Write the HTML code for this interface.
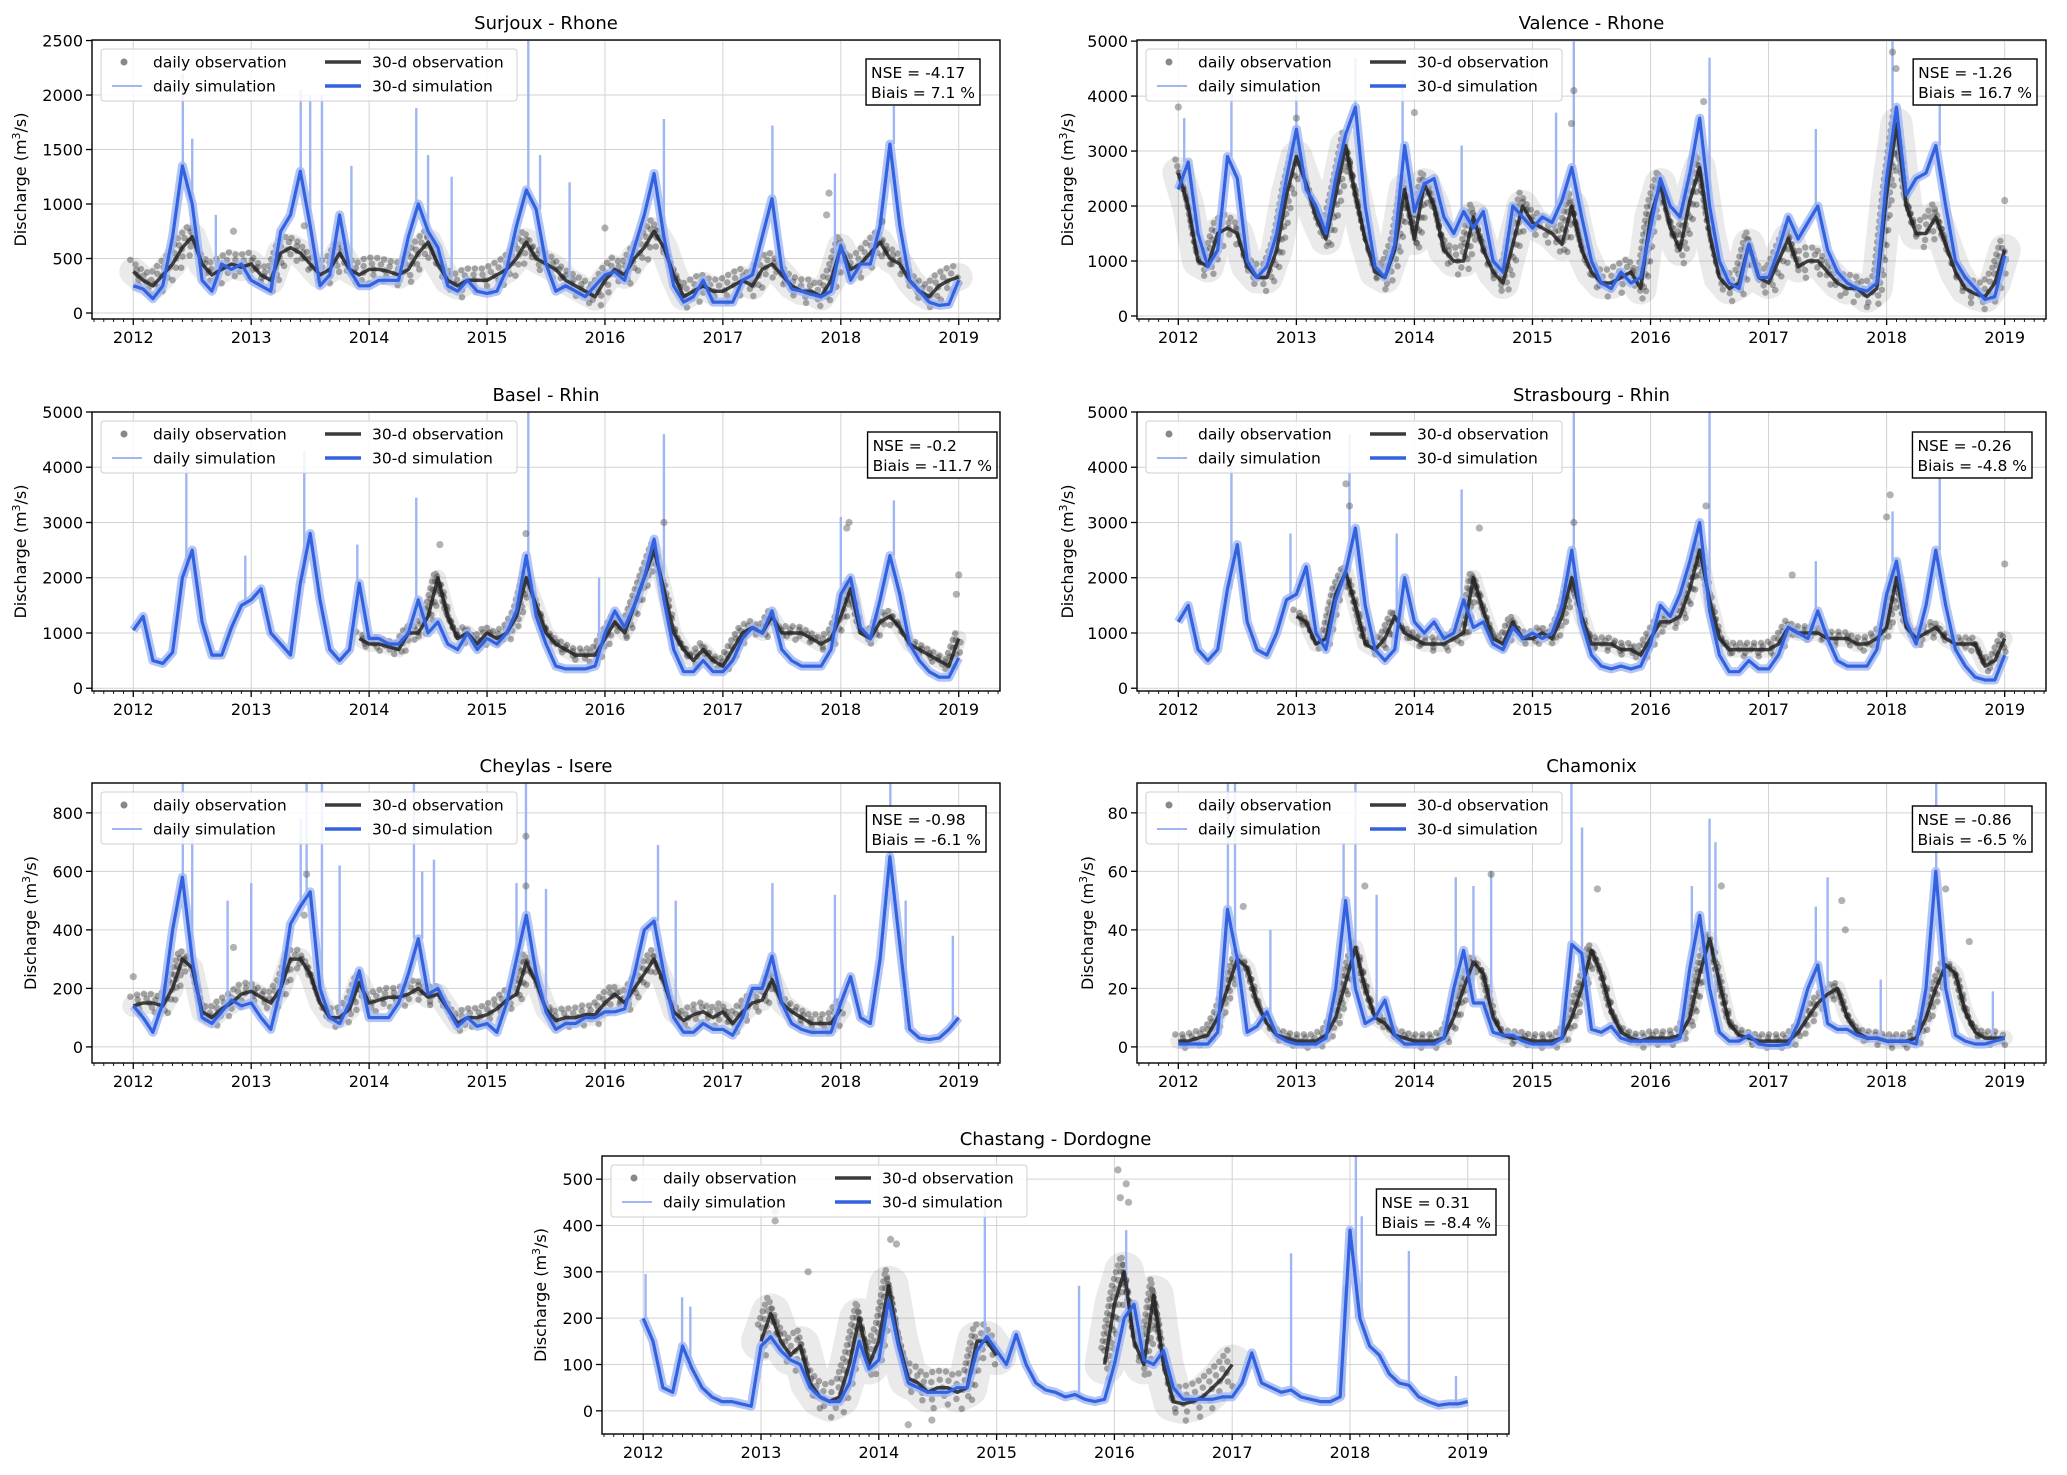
<!DOCTYPE html>
<html><head><meta charset="utf-8"><title>Discharge comparison</title>
<style>
html,body{margin:0;padding:0;background:#fff;}
svg{display:block;font-family:"DejaVu Sans","Liberation Sans",sans-serif;}
</style></head>
<body>
<svg id="fig" width="2067" height="1475" viewBox="0 0 2067 1475" xmlns="http://www.w3.org/2000/svg"></svg>
<script>
// ---- data (monthly values, Jan 2012 .. Jan 2019, 85 points) ----
const surjouxSim30 = [250,220,130,250,700,1350,1000,300,200,450,400,450, 300,250,200,750,900,1300,800,250,350,900,400,250, 250,300,300,300,700,1000,750,600,250,200,300,200, 180,200,400,800,1130,950,450,200,250,200,150,250, 350,380,300,600,900,1280,700,250,100,150,300,100, 100,100,300,350,700,1050,400,220,200,170,150,200, 620,300,450,450,800,1550,800,300,200,100,70,80, 300];
const surjouxObs30 = [380,300,250,350,450,600,700,450,350,400,450,420, 450,350,300,550,600,550,450,350,400,550,400,350, 400,400,380,350,400,550,650,450,300,250,300,300, 300,350,400,500,650,500,450,400,300,250,200,150, 300,400,350,500,600,750,600,350,150,200,250,200, 200,250,300,250,400,450,350,250,200,200,150,300, 600,400,450,550,650,500,450,300,200,150,250,300, 330];
const surjouxSpikeYears = [2012.42,2012.5,2012.7,2013.42,2013.5,2013.6,2013.85,2014.4,2014.5,2014.7,2015.35,2015.45,2015.7,2016.5,2017.42,2017.95,2018.45];
const surjouxSpikeValues = [2200,1600,900,2050,2000,2000,1350,1880,1450,1250,2500,1450,1200,1780,1720,1280,1900];
const surjouxOutYears = [2017.9,2017.88,2012.85,2016.0,2013.45,2018.35];
const surjouxOutValues = [1100,900,750,780,800,840];

const valenceSim30 = [2300,2800,1500,900,1200,2900,2500,1000,700,900,1500,2500, 3400,2300,2000,1500,2500,3300,3800,2000,900,700,1300,3100, 1900,2400,2500,1800,1500,1900,1600,1900,1000,800,2000,1800, 1600,1800,1700,2100,2700,1800,1000,600,500,800,600,700, 1600,2500,2000,1800,2600,3600,2000,1000,600,500,1300,700, 700,1200,1800,1400,1700,2000,1200,800,600,500,450,600, 2500,3800,2200,2500,2600,3100,2000,1000,700,500,300,350, 1100];
const valenceObs30 = [2600,2000,1000,900,1500,1600,1500,900,700,700,1200,2200, 2900,2400,1800,1400,2200,3100,2200,1400,800,700,1200,2300, 1400,2400,2000,1200,1000,1000,1800,1200,800,600,1300,2000, 1700,1600,1500,1300,2000,1200,800,600,600,700,800,500, 1800,2400,1600,1200,2100,2700,1500,700,500,600,1300,700, 600,1000,1400,900,1000,1000,800,600,500,500,350,500, 2200,3500,2000,1500,1500,1800,1300,800,500,400,350,600, 1200];
const valenceSpikeYears = [2012.05,2012.45,2013.0,2013.5,2013.9,2014.4,2015.2,2015.35,2016.5,2017.4,2018.05,2018.45];
const valenceSpikeValues = [3600,4300,4000,4700,4300,3100,3700,5000,4700,3400,5000,4000];
const valenceOutYears = [2012.0,2013.0,2014.0,2015.35,2015.33,2018.05,2018.08,2019.0,2016.45];
const valenceOutValues = [3800,3600,3700,4100,3500,4800,4500,2100,3900];

const baselSim30 = [1050,1300,500,450,650,2000,2500,1200,600,600,1100,1500, 1600,1800,1000,800,600,1900,2800,1600,700,500,700,1900, 900,900,800,800,1000,1600,1000,1200,800,700,1000,700, 900,800,1000,1400,2400,1300,800,400,350,350,350,400, 1000,1400,1100,1500,2000,2700,1600,700,300,300,500,300, 300,500,900,1100,1000,1400,700,500,400,400,400,700, 1700,2000,1100,900,1600,2400,1700,800,500,300,200,200, 550];
const baselObs30 = [null,null,null,null,null,null,null,null,null,null,null,null, null,null,null,null,null,null,null,null,null,null,null,900, 800,800,750,700,1000,1000,1300,2000,1300,900,1000,800, 1000,900,1000,1300,2000,1500,1000,800,700,600,600,600, 900,1200,1000,1500,2000,2500,1800,1000,700,500,700,500, 400,700,1000,1100,1000,1300,1000,1000,1000,900,800,900, 1300,1800,1000,900,1200,1300,1100,800,700,600,500,400, 900];
const baselSpikeYears = [2012.45,2012.95,2013.45,2013.9,2014.4,2015.35,2015.95,2016.5,2018.0,2018.45];
const baselSpikeValues = [4000,2400,4300,2600,3450,5000,2000,4600,3100,3400];
const baselOutYears = [2014.6,2015.33,2016.5,2018.05,2018.07,2019.0,2018.98];
const baselOutValues = [2600,2800,3000,2900,3000,2050,1700];

const strasSim30 = [1200,1500,700,500,700,1800,2600,1200,700,600,1000,1600, 1700,2200,1000,700,1600,2100,2900,1500,700,500,700,2000, 1200,1000,1200,900,1000,1600,1100,1200,800,700,1100,900, 1000,900,1000,1500,2500,1200,600,400,350,400,350,400, 800,1500,1300,1700,2300,3000,1400,600,300,300,500,350, 350,600,1100,1000,900,1400,900,500,400,400,400,700, 1700,2300,1200,800,1500,2500,1500,700,400,200,150,150, 600];
const strasObs30 = [null,null,null,null,null,null,null,null,null,null,null,null, 1300,1200,800,900,1700,2100,1500,800,700,900,1300,1000, 900,800,800,800,900,1000,2000,1400,900,800,1200,900, 900,1000,900,1300,2000,1300,800,800,800,700,700,600, 900,1200,1200,1300,1800,2500,1600,900,700,700,700,700, 700,800,1100,1000,1000,1000,900,900,900,800,800,900, 1100,2000,1100,900,1000,1100,900,800,800,800,400,500, 900];
const strasSpikeYears = [2012.45,2012.95,2013.45,2013.85,2014.4,2015.35,2016.5,2017.4,2018.05,2018.45];
const strasSpikeValues = [4000,2800,4600,2800,3600,5000,5000,2300,3200,3800];
const strasOutYears = [2013.42,2013.45,2014.55,2015.35,2016.47,2018.0,2018.03,2019.0,2017.2];
const strasOutValues = [3700,3300,2900,3000,3300,3100,3500,2250,2050];

const cheylasSim30 = [140,100,50,150,400,580,300,100,80,120,160,140, 150,100,60,200,420,480,530,200,100,80,150,260, 100,100,100,150,250,370,180,200,130,70,100,70, 80,50,150,300,450,250,120,60,80,80,100,100, 120,120,130,250,400,430,250,100,50,50,80,60, 60,40,100,200,200,310,150,80,60,50,50,50, 150,240,100,80,300,650,350,60,30,25,30,60, 100];
const cheylasObs30 = [140,150,150,140,200,300,270,120,100,130,150,180, 190,170,150,200,300,300,250,150,100,100,130,220, 150,160,170,170,180,200,170,180,130,80,100,100, 110,130,160,180,290,220,130,90,100,100,110,110, 150,180,150,200,250,300,220,120,90,110,120,100, 120,80,120,150,160,230,150,120,100,80,80,80, 130,null,null,null,null,null,null,null,null,null,null,null, null];
const cheylasSpikeYears = [2012.42,2012.5,2012.8,2013.0,2013.42,2013.47,2013.6,2013.75,2014.38,2014.45,2014.55,2015.25,2015.33,2015.5,2016.45,2016.6,2017.42,2017.95,2018.42,2018.55,2018.95];
const cheylasSpikeValues = [900,720,500,560,780,900,900,620,900,600,640,560,900,540,690,500,560,520,900,500,380];
const cheylasOutYears = [2015.33,2015.33,2013.47,2012.85,2012.0,2013.45];
const cheylasOutValues = [720,550,590,340,240,450];

const chamSim30 = [1,1,1,1,5,47,30,5,7,12,4,2, 1,1,1,3,20,50,20,8,10,16,4,1, 1,1,1,3,20,33,15,15,5,4,4,2, 1,1,1,3,35,32,6,5,7,3,2,2, 2,2,2,3,27,45,20,5,2,2,4,1, 0.5,0.5,1,8,20,28,8,6,6,4,3,3, 2,2,2,1,20,60,20,4,2,1,1,2, 3];
const chamObs30 = [2,2,3,4,10,20,30,27,15,8,4,3, 2,2,2,4,10,22,34,20,10,8,4,3, 2,2,2,3,10,20,29,25,10,4,3,3, 2,2,2,3,10,20,33,25,12,5,3,2, 3,3,3,4,10,25,37,22,8,4,3,2, 2,2,2,5,10,15,18,20,10,5,3,3, 2,2,2,3,10,20,28,25,12,5,3,3, 3];
const chamSpikeYears = [2012.42,2012.48,2012.78,2013.4,2013.5,2013.68,2014.35,2014.5,2014.65,2015.33,2015.42,2016.35,2016.5,2016.55,2017.4,2017.5,2017.95,2018.42,2018.9];
const chamSpikeValues = [90,90,40,70,90,52,58,55,60,90,75,55,78,70,48,58,23,90,19];
const chamOutYears = [2012.55,2013.58,2014.65,2015.55,2016.6,2017.62,2017.65,2018.5,2018.7];
const chamOutValues = [48,55,59,54,55,50,40,54,36];

const chastSim30 = [200,150,50,40,140,90,50,30,20,20,15,10, 140,160,130,110,100,50,30,20,20,60,150,90, 110,240,140,60,50,40,40,40,50,50,130,160, 130,100,165,100,60,45,40,30,35,25,20,25, 100,200,230,110,100,130,50,25,25,25,25,30, 30,60,125,60,50,40,45,30,25,20,20,30, 390,200,140,120,80,60,55,30,20,12,15,15, 20];
const chastObs30 = [null,null,null,null,null,null,null,null,null,null,null,null, 150,210,150,120,140,60,30,20,30,100,200,100, 150,270,150,70,60,40,50,50,40,50,150,150, 120,null,null,null,null,null,null,null,null,null,null,100, 230,300,150,100,250,100,20,15,20,30,50,70, 100,null,null,null,null,null,null,null,null,null,null,null, null,null,null,null,null,null,null,null,null,null,null,null, null];
const chastSpikeYears = [2012.02,2012.33,2012.4,2014.9,2015.7,2016.1,2017.5,2017.95,2018.05,2018.1,2018.5,2018.9];
const chastSpikeValues = [295,245,225,440,270,390,340,270,550,420,345,75];
const chastOutYears = [2013.12,2013.12,2014.1,2014.15,2016.03,2016.05,2016.1,2016.12,2014.25,2014.45,2013.4];
const chastOutValues = [410,430,370,360,520,460,490,450,-30,-20,300];

// ---- drawing ----
const NS = 'http://www.w3.org/2000/svg';
const svg = document.getElementById('fig');
function mk(tag, attrs, parent) {
  const e = document.createElementNS(NS, tag);
  for (const k in attrs) e.setAttribute(k, attrs[k]);
  (parent || svg).appendChild(e);
  return e;
}
const XMIN = 2011.65, XMAX = 2019.35;

function panel(c) {
  const g = mk('g', {});
  
  
  const sx = t => c.L + (t - XMIN) / (XMAX - XMIN) * (c.R - c.L);
  const sy = v => c.B - (v - c.ymin) / (c.ymax - c.ymin) * (c.B - c.T);
  const clipId = 'clip-' + c.id;
  const cp = mk('clipPath', {id: clipId}, g);
  mk('rect', {x: c.L, y: c.T, width: c.R - c.L, height: c.B - c.T}, cp);

  const grid = mk('g', {stroke: '#d3d3d3', 'stroke-width': 1}, g);
  
  
  for (let y = 2012; y <= 2019; y++) mk('line', {x1: sx(y), x2: sx(y), y1: c.T, y2: c.B}, grid);
  c.yticks.forEach(v => mk('line', {x1: c.L, x2: c.R, y1: sy(v), y2: sy(v)}, grid));

  const plot = mk('g', {'clip-path': 'url(#' + clipId + ')'}, g);
  const pts = arr => {
    let segs = [], cur = [];
    arr.forEach((v, m) => {
      if (v === null) { if (cur.length) segs.push(cur); cur = []; }
      else cur.push(sx(2012 + m / 12).toFixed(1) + ',' + sy(v).toFixed(1));
    });
    if (cur.length) segs.push(cur);
    return segs;
  };
  // daily observation cloud: dotted strands around the 30-d observation
  const offs = [-0.42, -0.2, 0, 0.2, 0.42];
  pts(c.obs).forEach(s => {
    const band = mk('polyline', {points: s.join(' '), fill: 'none', stroke: '#555', 'stroke-opacity': 0.12, 'stroke-width': c.band, 'stroke-linejoin': 'round', 'stroke-linecap': 'round'}, plot);
    
    
    offs.forEach((o, k) => {
      const p = mk('polyline', {points: s.join(' '), transform: 'translate(' + (k * 1.7 - 3) + ',' + (o * c.band) + ')', fill: 'none', stroke: '#333', 'stroke-opacity': 0.4, 'stroke-width': 6.5, 'stroke-linecap': 'round', 'stroke-dasharray': '0 ' + (7 + k * 2), 'stroke-dashoffset': k * 3}, plot);
      
      
    });
  });
  pts(c.sim).forEach(s => {
    const p = mk('polyline', {points: s.join(' '), fill: 'none', stroke: '#9fb6f2', 'stroke-opacity': 0.8, 'stroke-width': 9, 'stroke-linejoin': 'round'}, plot);
    
    
  });
  c.spY.forEach((t, i) => {
    const m = Math.min(84, Math.max(0, Math.round((t - 2012) * 12)));
    const l = mk('line', {x1: sx(t), x2: sx(t), y1: sy(c.sim[m]), y2: sy(c.spV[i]), stroke: '#9fb6f2', 'stroke-width': 2.4}, plot);
    
    
  });
  c.outY.forEach((t, i) => {
    const d = mk('circle', {cx: sx(t), cy: sy(c.outV[i]), r: 3.6, fill: '#555', 'fill-opacity': 0.45}, plot);
    
    
  });
  pts(c.obs).forEach(s => {
    const p = mk('polyline', {points: s.join(' '), fill: 'none', stroke: '#222', 'stroke-opacity': 0.85, 'stroke-width': 3.5, 'stroke-linejoin': 'round'}, plot);
    
    
  });
  pts(c.sim).forEach(s => {
    const p = mk('polyline', {points: s.join(' '), fill: 'none', stroke: '#3362e0', 'stroke-width': 3.2, 'stroke-linejoin': 'round'}, plot);
    
    
  });

  const fr = mk('rect', {x: c.L, y: c.T, width: c.R - c.L, height: c.B - c.T, fill: 'none', stroke: '#000', 'stroke-width': 1.4}, g);
  
  

  const xa = mk('g', {}, g);
  
  
  for (let m = -4; m <= 88; m++) {
    const t = 2012 + m / 12;
    if (t < XMIN || t > XMAX) continue;
    const major = m % 12 === 0;
    mk('line', {x1: sx(t), x2: sx(t), y1: c.B, y2: c.B + (major ? 6 : 3), stroke: '#000', 'stroke-width': major ? 1.3 : 0.9}, xa);
    if (major) {
      const tx = mk('text', {x: sx(t), y: c.B + 24, 'text-anchor': 'middle', 'font-size': 16, fill: '#000'}, xa);
      tx.textContent = String(t);
      
      
    }
  }
  const ya = mk('g', {}, g);
  
  
  c.yticks.forEach(v => {
    mk('line', {x1: c.L - 6, x2: c.L, y1: sy(v), y2: sy(v), stroke: '#000', 'stroke-width': 1.3}, ya);
    const tx = mk('text', {x: c.L - 9, y: sy(v) + 6, 'text-anchor': 'end', 'font-size': 16, fill: '#000'}, ya);
    tx.textContent = String(v);
    
    
  });
  const yl = mk('text', {transform: 'translate(' + c.ylabX + ',' + ((c.T + c.B) / 2) + ') rotate(-90)', 'text-anchor': 'middle', 'font-size': 16, fill: '#000'}, g);
  yl.innerHTML = 'Discharge (m<tspan font-size="11" dy="-6">3</tspan><tspan dy="6">/s)</tspan>';
  
  

  const ti = mk('text', {x: (c.L + c.R) / 2, y: c.T - 11, 'text-anchor': 'middle', 'font-size': 18, fill: '#000'}, g);
  ti.textContent = c.title;
  
  

  const lg = mk('g', {}, g);
  
  
  mk('rect', {x: c.L + 9, y: c.T + 9, width: 416, height: 52, rx: 3, fill: '#fff', 'fill-opacity': 0.85, stroke: '#cfcfcf'}, lg);
  const r1 = c.T + 22, r2 = c.T + 46;
  mk('circle', {cx: c.L + 32, cy: r1, r: 3.5, fill: '#888'}, lg);
  mk('line', {x1: c.L + 20, x2: c.L + 50, y1: r2, y2: r2, stroke: '#9fb6f2', 'stroke-width': 2}, lg);
  mk('line', {x1: c.L + 233, x2: c.L + 269, y1: r1, y2: r1, stroke: '#3a3a3a', 'stroke-width': 3.5}, lg);
  mk('line', {x1: c.L + 233, x2: c.L + 269, y1: r2, y2: r2, stroke: '#3362e0', 'stroke-width': 3.5}, lg);
  [['daily observation', c.L + 61, r1], ['daily simulation', c.L + 61, r2], ['30-d observation', c.L + 280, r1], ['30-d simulation', c.L + 280, r2]].forEach(a => {
    const tx = mk('text', {x: a[1], y: a[2] + 5.5, 'font-size': 15.5, fill: '#000'}, lg);
    tx.textContent = a[0];
    
    
  });

  const sb = mk('g', {}, g);
  
  
  const box = mk('rect', {fill: '#fff', stroke: '#000', 'stroke-width': 1.4}, sb);
  const t1 = mk('text', {'font-size': 15.5, fill: '#000'}, sb);
  t1.textContent = c.stat[0];
  const t2 = mk('text', {'font-size': 15.5, fill: '#000'}, sb);
  t2.textContent = c.stat[1];
  const w = Math.max(t1.getComputedTextLength(), t2.getComputedTextLength()) + 10;
  const bx = c.statR - w;
  box.setAttribute('x', bx); box.setAttribute('y', c.statT);
  box.setAttribute('width', w); box.setAttribute('height', 46);
  t1.setAttribute('x', bx + 5); t1.setAttribute('y', c.statT + 19);
  t2.setAttribute('x', bx + 5); t2.setAttribute('y', c.statT + 39);
}

const t5k = [0,1000,2000,3000,4000,5000];
panel({id:'surjoux', title:'Surjoux - Rhone', L:92, R:1000, T:40, B:319, ymin:-55, ymax:2505, yticks:[0,500,1000,1500,2000,2500], ylabX:26, statR:980, statT:59, band:28, stat:['NSE = -4.17','Biais = 7.1 %'], sim:surjouxSim30, obs:surjouxObs30, spY:surjouxSpikeYears, spV:surjouxSpikeValues, outY:surjouxOutYears, outV:surjouxOutValues});
panel({id:'valence', title:'Valence - Rhone', L:1137, R:2046, T:40, B:319, ymin:-55, ymax:5020, yticks:t5k, ylabX:1073, statR:2037, statT:59, band:32, stat:['NSE = -1.26','Biais = 16.7 %'], sim:valenceSim30, obs:valenceObs30, spY:valenceSpikeYears, spV:valenceSpikeValues, outY:valenceOutYears, outV:valenceOutValues});
panel({id:'basel', title:'Basel - Rhin', L:92, R:1000, T:412, B:691, ymin:-50, ymax:5000, yticks:t5k, ylabX:26, statR:997, statT:432, band:16, stat:['NSE = -0.2','Biais = -11.7 %'], sim:baselSim30, obs:baselObs30, spY:baselSpikeYears, spV:baselSpikeValues, outY:baselOutYears, outV:baselOutValues});
panel({id:'strasbourg', title:'Strasbourg - Rhin', L:1137, R:2046, T:412, B:691, ymin:-50, ymax:5000, yticks:t5k, ylabX:1073, statR:2032, statT:432, band:16, stat:['NSE = -0.26','Biais = -4.8 %'], sim:strasSim30, obs:strasObs30, spY:strasSpikeYears, spV:strasSpikeValues, outY:strasOutYears, outV:strasOutValues});
panel({id:'cheylas', title:'Cheylas - Isere', L:92, R:1000, T:783, B:1063, ymin:-55, ymax:902, yticks:[0,200,400,600,800], ylabX:36, statR:986, statT:806, band:22, stat:['NSE = -0.98','Biais = -6.1 %'], sim:cheylasSim30, obs:cheylasObs30, spY:cheylasSpikeYears, spV:cheylasSpikeValues, outY:cheylasOutYears, outV:cheylasOutValues});
panel({id:'chamonix', title:'Chamonix', L:1137, R:2046, T:783, B:1063, ymin:-5.5, ymax:90.2, yticks:[0,20,40,60,80], ylabX:1093, statR:2032, statT:806, band:16, stat:['NSE = -0.86','Biais = -6.5 %'], sim:chamSim30, obs:chamObs30, spY:chamSpikeYears, spV:chamSpikeValues, outY:chamOutYears, outV:chamOutValues});
panel({id:'chastang', title:'Chastang - Dordogne', L:602, R:1509, T:1156, B:1434, ymin:-50, ymax:550, yticks:[0,100,200,300,400,500], ylabX:546, statR:1496, statT:1189, band:40, stat:['NSE = 0.31','Biais = -8.4 %'], sim:chastSim30, obs:chastObs30, spY:chastSpikeYears, spV:chastSpikeValues, outY:chastOutYears, outV:chastOutValues});
</script>
</body></html>
